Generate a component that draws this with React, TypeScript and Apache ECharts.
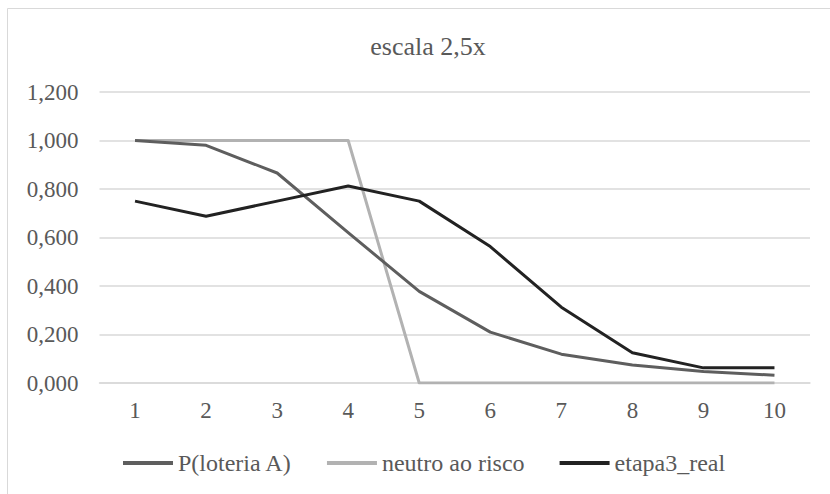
import React, { useEffect, useRef } from "react";
import * as echarts from "echarts";

const categories = ["1", "2", "3", "4", "5", "6", "7", "8", "9", "10"];
const pLoteriaA = [1.0, 0.98, 0.866, 0.62, 0.378, 0.21, 0.119, 0.074, 0.047, 0.032];
const neutroAoRisco = [1, 1, 1, 1, 0, 0, 0, 0, 0, 0];
const etapa3Real = [0.75, 0.6875, 0.75, 0.8125, 0.75, 0.5625, 0.3125, 0.125, 0.0625, 0.0625];
const seriesNames = ["P(loteria A)", "neutro ao risco", "etapa3_real"];
const titleText = "escala 2,5x";

const FONT = "Liberation Serif";
const TEXT = "#595959";

export default function App() {
  const ref = useRef<HTMLDivElement>(null);
  useEffect(() => {
    if (!ref.current) return;
    const chart = echarts.init(ref.current, null, { renderer: "svg" });
    chart.setOption({
      animation: false,
      backgroundColor: "#ffffff",
      textStyle: { fontFamily: FONT, color: TEXT },
      title: {
        text: titleText,
        left: 423,
        textAlign: "center",
        top: 28,
        textStyle: { fontFamily: FONT, fontSize: 26, fontWeight: "normal", color: TEXT },
      },
      graphic: [
        {
          type: "rect",
          shape: { x: 7.5, y: 8.5, width: 900, height: 600 },
          style: { fill: "none", stroke: "#d9d9d9", lineWidth: 1 },
          silent: true,
        },
      ],
      legend: {
        left: 118,
        top: 446,
        itemWidth: 50,
        itemHeight: 4,
        itemGap: 35,
        icon: "rect",
        textStyle: { fontFamily: FONT, fontSize: 24, color: TEXT },
        data: seriesNames,
      },
      grid: { left: 99.5, right: 20, top: 92, bottom: 111, containLabel: false },
      xAxis: {
        type: "category",
        data: categories,
        boundaryGap: true,
        axisLine: { show: true, lineStyle: { color: "#d9d9d9", width: 1.5 } },
        axisTick: { show: false },
        axisLabel: { fontFamily: FONT, fontSize: 23, color: TEXT, margin: 16 },
      },
      yAxis: {
        type: "value",
        min: 0,
        max: 1.2,
        interval: 0.2,
        axisLine: { show: false },
        axisTick: { show: false },
        splitLine: { lineStyle: { color: "#d9d9d9", width: 1.5 } },
        axisLabel: {
          fontFamily: FONT,
          fontSize: 23,
          color: TEXT,
          margin: 21,
          formatter: (v: number) => v.toFixed(3).replace(".", ","),
        },
      },
      series: [
        {
          name: seriesNames[0],
          type: "line",
          data: pLoteriaA,
          symbol: "none",
          lineStyle: { color: "#5e5e5e", width: 3, join: "round" },
          itemStyle: { color: "#5e5e5e" },
          z: 3,
        },
        {
          name: seriesNames[1],
          type: "line",
          data: neutroAoRisco,
          symbol: "none",
          lineStyle: { color: "#b2b2b2", width: 3, join: "round" },
          itemStyle: { color: "#b2b2b2" },
          z: 2,
        },
        {
          name: seriesNames[2],
          type: "line",
          data: etapa3Real,
          symbol: "none",
          lineStyle: { color: "#222222", width: 3, join: "round" },
          itemStyle: { color: "#222222" },
          z: 4,
        },
      ],
    });
    return () => chart.dispose();
  }, []);
  return (
    <div
      ref={ref}
      style={{ position: "fixed", left: 0, top: 0, width: 830, height: 494 }}
    />
  );
}
